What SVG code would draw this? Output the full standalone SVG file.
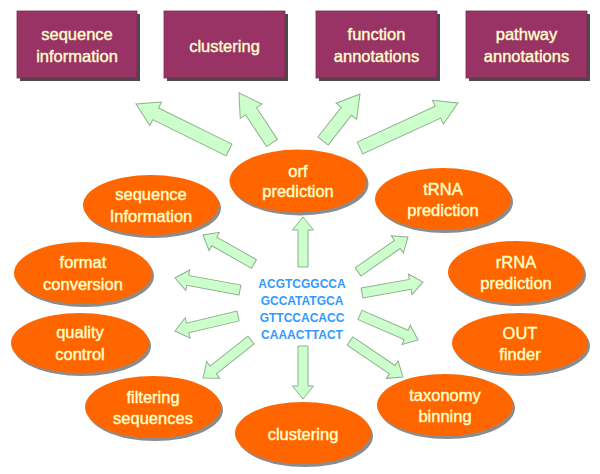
<svg xmlns="http://www.w3.org/2000/svg" width="600" height="474" viewBox="0 0 600 474">
<style>
.box{fill:#993366;stroke:#7a2850;stroke-width:0.8}
.bsh{fill:#4a4a4a}
.ell{fill:#FF6600}
.esh{fill:#8c8c8c}
.lbl{font-family:"Liberation Sans",Arial,sans-serif;font-size:16.5px;fill:#FFFFCC;stroke:#FFFFCC;stroke-width:0.4;text-anchor:middle}
.seq{font-family:"Liberation Sans",Arial,sans-serif;font-size:12px;font-weight:bold;fill:#3399FF;text-anchor:middle}
.arr{fill:#CCFFCC;stroke:#8FAF8F;stroke-width:1}
</style>
<rect width="600" height="474" fill="#ffffff"/>
<g id="connectors">
<polygon class="arr" transform="translate(229,150) rotate(-153.7)" points="0,-6.5 81.8,-6.5 81.8,-13 103.8,0 81.8,13 81.8,6.5 0,6.5"/>
<polygon class="arr" transform="translate(272,143) rotate(-123.4)" points="0,-6.5 38,-6.5 38,-13 60,0 38,13 38,6.5 0,6.5"/>
<polygon class="arr" transform="translate(323,141) rotate(-51.8)" points="0,-6.5 37.8,-6.5 37.8,-13 59.8,0 37.8,13 37.8,6.5 0,6.5"/>
<polygon class="arr" transform="translate(360,148) rotate(-24.7)" points="0,-6.5 85.8,-6.5 85.8,-13 107.8,0 85.8,13 85.8,6.5 0,6.5"/>
<polygon class="arr" transform="translate(303,267) rotate(-90)" points="0,-5 37,-5 37,-10.5 50,0 37,10.5 37,5 0,5"/>
<polygon class="arr" transform="translate(303,346) rotate(90)" points="0,-5 40,-5 40,-10.5 53,0 40,10.5 40,5 0,5"/>
<polygon class="arr" transform="translate(254,264) rotate(-150.4)" points="0,-5 45.7,-5 45.7,-10.5 58.7,0 45.7,10.5 45.7,5 0,5"/>
<polygon class="arr" transform="translate(240,290) rotate(-169.5)" points="0,-5 53.1,-5 53.1,-10.5 66.1,0 53.1,10.5 53.1,5 0,5"/>
<polygon class="arr" transform="translate(238,316) rotate(166.6)" points="0,-5 51.8,-5 51.8,-10.5 64.8,0 51.8,10.5 51.8,5 0,5"/>
<polygon class="arr" transform="translate(251,340) rotate(141.6)" points="0,-5 48.2,-5 48.2,-10.5 61.2,0 48.2,10.5 48.2,5 0,5"/>
<polygon class="arr" transform="translate(358,272) rotate(-35)" points="0,-5 48,-5 48,-10.5 61,0 48,10.5 48,5 0,5"/>
<polygon class="arr" transform="translate(362,293) rotate(-10.2)" points="0,-5 49,-5 49,-10.5 62,0 49,10.5 49,5 0,5"/>
<polygon class="arr" transform="translate(360,315) rotate(23.3)" points="0,-5 50.2,-5 50.2,-10.5 63.2,0 50.2,10.5 50.2,5 0,5"/>
<polygon class="arr" transform="translate(350,341) rotate(34.2)" points="0,-5 51,-5 51,-10.5 64,0 51,10.5 51,5 0,5"/>
</g>
<g id="box-sequence-information">
<rect class="bsh" x="20" y="14" width="120" height="67"/>
<rect class="box" x="17" y="11" width="120" height="67"/>
<text class="lbl" x="77" y="40">sequence</text>
<text class="lbl" x="77" y="62">information</text>
</g>
<g id="box-clustering">
<rect class="bsh" x="167" y="14" width="121" height="67"/>
<rect class="box" x="164" y="11" width="121" height="67"/>
<text class="lbl" x="224.5" y="51.5">clustering</text>
</g>
<g id="box-function-annotations">
<rect class="bsh" x="319" y="14" width="121" height="67"/>
<rect class="box" x="316" y="11" width="121" height="67"/>
<text class="lbl" x="376.5" y="40">function</text>
<text class="lbl" x="376.5" y="62">annotations</text>
</g>
<g id="box-pathway-annotations">
<rect class="bsh" x="469" y="14" width="121" height="67"/>
<rect class="box" x="466" y="11" width="121" height="67"/>
<text class="lbl" x="526.5" y="40">pathway</text>
<text class="lbl" x="526.5" y="62">annotations</text>
</g>
<g id="node-orf">
<ellipse class="esh" cx="300" cy="184" rx="68.5" ry="31.5"/>
<ellipse class="ell" cx="298" cy="181" rx="68.5" ry="31.5"/>
<text class="lbl" x="298" y="177">orf</text>
<text class="lbl" x="298" y="197">prediction</text>
</g>
<g id="node-sequence-information">
<ellipse class="esh" cx="153" cy="208" rx="68" ry="30"/>
<ellipse class="ell" cx="151" cy="205" rx="68" ry="30"/>
<text class="lbl" x="151" y="200">sequence</text>
<text class="lbl" x="151" y="222">Information</text>
</g>
<g id="node-format-conversion">
<ellipse class="esh" cx="85" cy="276" rx="69" ry="31"/>
<ellipse class="ell" cx="83" cy="273" rx="69" ry="31"/>
<text class="lbl" x="83" y="268">format</text>
<text class="lbl" x="83" y="290">conversion</text>
</g>
<g id="node-quality-control">
<ellipse class="esh" cx="82" cy="346" rx="69" ry="30"/>
<ellipse class="ell" cx="80" cy="343" rx="69" ry="30"/>
<text class="lbl" x="80" y="338">quality</text>
<text class="lbl" x="80" y="360">control</text>
</g>
<g id="node-filtering-sequences">
<ellipse class="esh" cx="155" cy="410" rx="68" ry="31"/>
<ellipse class="ell" cx="153" cy="407" rx="68" ry="31"/>
<text class="lbl" x="153" y="403">filtering</text>
<text class="lbl" x="153" y="424">sequences</text>
</g>
<g id="node-clustering">
<ellipse class="esh" cx="305" cy="436" rx="68" ry="31"/>
<ellipse class="ell" cx="303" cy="433" rx="68" ry="31"/>
<text class="lbl" x="303" y="440">clustering</text>
</g>
<g id="node-trna">
<ellipse class="esh" cx="445" cy="202" rx="68" ry="31"/>
<ellipse class="ell" cx="443" cy="199" rx="68" ry="31"/>
<text class="lbl" x="443" y="195">tRNA</text>
<text class="lbl" x="443" y="216">prediction</text>
</g>
<g id="node-rrna">
<ellipse class="esh" cx="518" cy="275" rx="68" ry="31"/>
<ellipse class="ell" cx="516" cy="272" rx="68" ry="31"/>
<text class="lbl" x="516" y="268">rRNA</text>
<text class="lbl" x="516" y="289">prediction</text>
</g>
<g id="node-out-finder">
<ellipse class="esh" cx="522" cy="346" rx="68" ry="30"/>
<ellipse class="ell" cx="520" cy="343" rx="68" ry="30"/>
<text class="lbl" x="520" y="339">OUT</text>
<text class="lbl" x="520" y="360">finder</text>
</g>
<g id="node-taxonomy-binning">
<ellipse class="esh" cx="447" cy="408" rx="68" ry="31"/>
<ellipse class="ell" cx="445" cy="405" rx="68" ry="31"/>
<text class="lbl" x="445" y="401">taxonomy</text>
<text class="lbl" x="445" y="422">binning</text>
</g>
<g id="node-sequence">
<text class="seq" x="302" y="288">ACGTCGGCCA</text>
<text class="seq" x="302" y="305">GCCATATGCA</text>
<text class="seq" x="302" y="322">GTTCCACACC</text>
<text class="seq" x="302" y="339">CAAACTTACT</text>
</g>
</svg>
